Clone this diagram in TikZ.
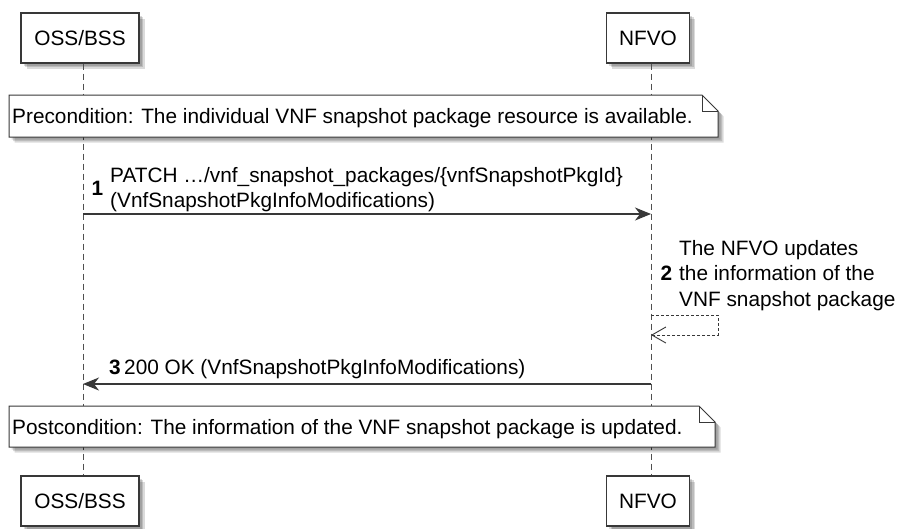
\documentclass[tikz,border=0pt]{standalone}
\usepackage{fontspec}
\setmainfont{Liberation Sans}
\usetikzlibrary{arrows.meta,calc}
\definecolor{linec}{HTML}{383838}
\definecolor{lifec}{HTML}{505050}
\newcommand{\mysize}{\fontsize{20.8}{25.5}\selectfont}
\newcommand{\softbox}[4]{%
  \foreach \dd in {2.5,4,5.5}{\fill[softshadow] (#1+\dd,#2+\dd) rectangle (#3+\dd,#4+\dd);}}
\tikzset{
  actorbox/.style={draw=linec, line width=1.4pt, fill=white, minimum height=50pt, inner sep=0pt},
  lifeline/.style={draw=lifec, line width=1pt, dash pattern=on 6pt off 4pt},
  notebg/.style={fill=white, draw=linec, line width=1pt},
  softshadow/.style={fill=black, opacity=0.14},
  lbl/.style={inner sep=0pt, anchor=base west},
  num/.style={lbl, font=\mysize\bfseries},
  msg/.style={draw=linec, line width=1.1pt, -{Stealth[length=16pt,width=13pt,inset=5pt]}},
  selfmsg/.style={draw=linec, line width=0.9pt, dash pattern=on 3pt off 2pt, -{Straight Barb[length=14pt,width=16pt]}},
}
\begin{document}
\begin{tikzpicture}[x=1pt, y=-1pt, font=\mysize]
\useasboundingbox (0,0) rectangle (897,528);
\fill[white] (0,0) rectangle (897,528);

% participant shadows
\softbox{21}{13}{139}{63}
\softbox{606.5}{13}{689.5}{63}
\softbox{21}{476}{139}{526}
\softbox{606.5}{476}{689.5}{526}

% participants
\node[actorbox, minimum width=118pt] (oss) at (80,38) {OSS/BSS};
\node[actorbox, minimum width=83pt] (nfvo) at (648,38) {NFVO};
\node[actorbox, minimum width=118pt] (ossb) at (80,501) {OSS/BSS};
\node[actorbox, minimum width=83pt] (nfvob) at (648,501) {NFVO};

% lifelines
\coordinate (ossT) at ($(oss.south)+(3,0)$);
\coordinate (ossB) at ($(ossb.north)+(3,0)$);
\coordinate (nfvoT) at ($(nfvo.south)+(3,0)$);
\coordinate (nfvoB) at ($(nfvob.north)+(3,0)$);
\draw[lifeline] (ossT) -- (ossB);
\draw[lifeline] (nfvoT) -- (nfvoB);

% precondition note
\foreach \d in {2.5,4,5.5}{
  \fill[softshadow] ($(9,95)+(\d,\d)$) -- ($(702,95)+(\d,\d)$) -- ($(718,111)+(\d,\d)$) -- ($(718,137)+(\d,\d)$) -- ($(9,137)+(\d,\d)$) -- cycle;
}
\draw[notebg] (9,95) -- (702,95) -- (718,111) -- (718,137) -- (9,137) -- cycle;
\draw[draw=linec, line width=1pt] (702,95) -- (702,111) -- (718,111);
\node[lbl] (pre) at (12,123.5) {Precondition: The individual VNF snapshot package resource is available.};

% message 1
\coordinate (m1s) at (83,214);
\coordinate (m1e) at (651,214);
\draw[msg] (m1s) -- (m1e);
\node[num] (n1) at (91.5,195) {1};
\node[lbl] (m1a) at (110,182) {PATCH …/vnf\_snapshot\_packages/\{vnfSnapshotPkgId\}};
\node[lbl] (m1b) at (110,207) {(VnfSnapshotPkgInfoModifications)};

% message 2 (self)
\node[num] (n2) at (660.5,280.5) {2};
\node[lbl] (m2a) at (679,255) {The NFVO updates};
\node[lbl] (m2b) at (679,280.5) {the information of the};
\node[lbl] (m2c) at (679,306) {VNF snapshot package};
\coordinate (m2s) at (651,315);
\coordinate (m2e) at (651,335);
\draw[selfmsg] (m2s) -- (718,315) -- (718,335) -- (m2e);

% message 3
\coordinate (m3s) at (651,384);
\coordinate (m3e) at (83,384);
\draw[msg] (m3s) -- (m3e);
\node[num] (n3) at (109,374) {3};
\node[lbl] (m3a) at (124,374) {200 OK (VnfSnapshotPkgInfoModifications)};

% postcondition note
\foreach \d in {2.5,4,5.5}{
  \fill[softshadow] ($(9,406)+(\d,\d)$) -- ($(699,406)+(\d,\d)$) -- ($(715,422)+(\d,\d)$) -- ($(715,447)+(\d,\d)$) -- ($(9,447)+(\d,\d)$) -- cycle;
}
\draw[notebg] (9,406) -- (699,406) -- (715,422) -- (715,447) -- (9,447) -- cycle;
\draw[draw=linec, line width=1pt] (699,406) -- (699,422) -- (715,422);
\node[lbl] (post) at (12,434) {Postcondition: The information of the VNF snapshot package is updated.};
\end{tikzpicture}
\end{document}
